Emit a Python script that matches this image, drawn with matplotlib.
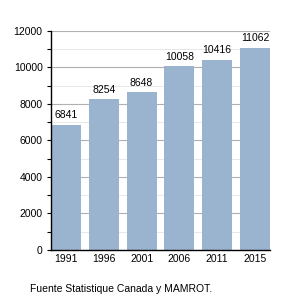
import matplotlib
matplotlib.use('Agg')
import matplotlib.pyplot as plt
from matplotlib.ticker import MultipleLocator

plt.rcParams['font.family'] = ['Liberation Sans', 'DejaVu Sans']

years = ['1991', '1996', '2001', '2006', '2011', '2015']
population = [6841, 8254, 8648, 10058, 10416, 11062]
source = 'Fuente Statistique Canada y MAMROT.'

fig = plt.figure(figsize=(3, 3), dpi=100)
ax = fig.add_axes([0.17, 0.167, 0.73, 0.73])

x = range(len(years))
bars = ax.bar(x, population, width=0.8, color='#9ab3cf', zorder=2)
for b, v in zip(bars, population):
    ax.text(b.get_x() + b.get_width() / 2, v + 250, str(v),
            ha='center', va='bottom', fontsize=7.5)

ax.set_xlim(-0.4, 5.4)
ax.set_ylim(0, 12000)
ax.set_xticks(list(x))
ax.set_xticklabels(years)
ax.yaxis.set_major_locator(MultipleLocator(2000))
ax.yaxis.set_minor_locator(MultipleLocator(1000))
ax.grid(axis='y', which='major', color='#b0b0b0', lw=0.8, zorder=0)
ax.grid(axis='y', which='minor', color='#e4e4e4', lw=0.6, zorder=0)
ax.tick_params(axis='both', labelsize=7.5, length=0, pad=3)
ax.tick_params(axis='y', which='minor', length=3, width=0.8)
ax.tick_params(axis='y', which='major', length=3, width=0.8)

for s in ['top', 'right']:
    ax.spines[s].set_visible(False)
ax.spines['left'].set_linewidth(1)
ax.spines['bottom'].set_linewidth(1)

fig.text(0.1, 0.037, source, fontsize=7.5, ha='left', va='center')

fig.savefig('out.png', dpi=100)
